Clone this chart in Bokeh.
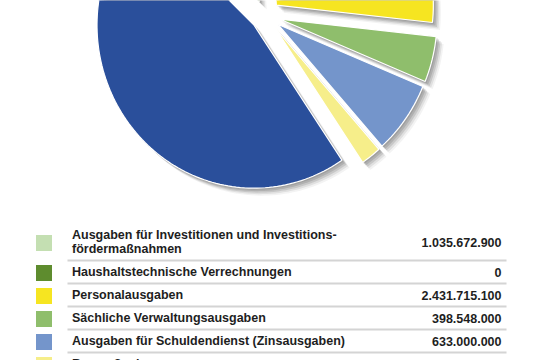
import math
from bokeh.plotting import figure
from bokeh.models import Range1d, ColumnDataSource
from bokeh.core.properties import value
from bokeh.embed import file_html
from bokeh.resources import INLINE

# ---- data ----
labels = [
    "Ausgaben für Investitionen und Investitions-\nfördermaßnahmen",
    "Haushaltstechnische Verrechnungen",
    "Personalausgaben",
    "Sächliche Verwaltungsausgaben",
    "Ausgaben für Schuldendienst (Zinsausgaben)",
    "Baumaßnahmen",
    "Zuweisungen und Zuschüsse",
]
values = [1035672900, 0, 2431715100, 398548000, 633000000, 184097000, 4100000000]
colors = ["#c4dfb2", "#5e8c2e", "#f6e521", "#8fbe6c", "#7495cb", "#f6ee8a", "#2a4f9b"]

# ---- geometry (page pixels -> data) ----
W, H = 537, 360


def py(y):
    return H - y


p = figure(width=W, height=H, x_range=Range1d(0, W), y_range=Range1d(0, H),
           x_axis_type=None, y_axis_type=None, toolbar_location=None,
           output_backend="svg", min_border=0, outline_line_color=None,
           background_fill_color="white", border_fill_color="white")
p.grid.visible = False

# ---- exploded pie (slightly oval, screen angles clockwise) ----
total = sum(values)
CX, CY = 265.0, 15.0
RX, RY = 157.0, 163.0
D = 15.0
theta = math.radians(-136.0)
xs, ys, cols = [], [], []
for v, c in zip(values, colors):
    span = 2 * math.pi * v / total
    if v > 0:
        mid = theta + span / 2
        ox = CX + D * math.cos(mid)
        oy = CY + D * math.sin(mid)
        n = max(8, int(span / math.radians(1.5)))
        px_ = [ox]
        py_ = [oy]
        for k in range(n + 1):
            t = theta + span * k / n
            px_.append(ox + RX * math.cos(t))
            py_.append(oy + RY * math.sin(t))
        xs.append(px_)
        ys.append(py_)
        cols.append(c)
    theta += span

for off, al in ((1.5, 0.14), (3.0, 0.16), (4.5, 0.14), (6.0, 0.10), (7.5, 0.06)):
    p.patches(xs=[[x + off for x in poly] for poly in xs],
              ys=[[py(y + off) for y in poly] for poly in ys],
              fill_color="#3a3a3a", fill_alpha=al, line_color=None)

p.patches(xs=xs, ys=[[py(y) for y in poly] for poly in ys], fill_color=cols,
          line_color="white", line_width=1.2)

# ---- table legend ----
top = 223
tx, ty, vx, vy, vt, sx, sy, sc, sepy, tl = [], [], [], [], [], [], [], [], [], []
for lab, v, c in zip(labels, values, colors):
    lines = lab.count("\n") + 1
    h = 23 + 14 * (lines - 1)
    if top > H:
        break
    center = top + h / 2
    tl.append(lab)
    tx.append(71.5)
    ty.append(py(center))
    vx.append(501)
    vy.append(py(center))
    vt.append(f"{v:,}".replace(",", "."))
    sx.append(43.5)
    sy.append(py(center + 1))
    sc.append(c)
    sepy.append(py(top + h))
    top += h

p.segment(x0=[67] * len(sepy), x1=[506] * len(sepy), y0=sepy, y1=sepy,
          line_color="#d4d4d4", line_width=2)
p.rect(x=sx, y=sy, width=16, height=16, fill_color=sc, line_color=None)
p.text(x=tx, y=ty, text=tl, text_font=value("Liberation Sans"), text_font_style="bold",
       text_font_size="12.5px", text_baseline="middle", text_align="left",
       text_color="#1e1e1e", text_line_height=1.07)
p.text(x=vx, y=vy, text=vt, text_font=value("Liberation Sans"), text_font_style="bold",
       text_font_size="12.5px", text_baseline="middle", text_align="right",
       text_color="#1e1e1e")

open("out.html", "w").write(file_html(p, INLINE))
